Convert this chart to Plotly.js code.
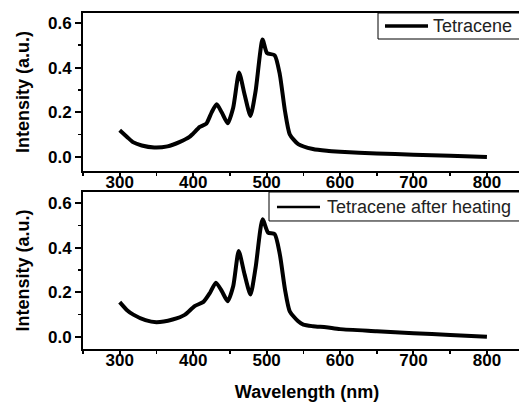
<!DOCTYPE html>
<html>
<head>
<meta charset="utf-8">
<script src="https://cdn.plot.ly/plotly-3.0.1.min.js"></script>
<style>
html,body{margin:0;padding:0;overflow:hidden;background:#fff;width:519px;height:406px;}
#chart{width:545px;height:406px;}
</style>
</head>
<body>
<div id="chart"></div>
<script>
// Tetracene (top panel)
const wlTop = [300, 310, 318, 330, 347, 365, 382, 395, 400, 409, 418, 425, 432, 439, 447, 454.5, 462.5, 470, 478, 485, 494.5, 500.5, 511, 518, 525, 531.5, 543, 563, 582, 600, 650, 700, 750, 800];
const intTop = [0.12, 0.09, 0.067, 0.052, 0.043, 0.048, 0.068, 0.09, 0.105, 0.135, 0.15, 0.199, 0.236, 0.199, 0.151, 0.221, 0.378, 0.28, 0.184, 0.295, 0.526, 0.465, 0.455, 0.369, 0.206, 0.102, 0.058, 0.036, 0.028, 0.024, 0.016, 0.011, 0.006, 0.0];
// Tetracene after heating (bottom panel)
const wlBot = [300, 310, 318.5, 335, 350, 372, 389, 402, 414, 423, 431, 439, 447, 454.5, 462, 470, 478, 485, 494.5, 502, 511, 518, 525, 531.5, 543, 550, 563, 581, 600, 650, 700, 750, 800];
const intBot = [0.156, 0.12, 0.10, 0.075, 0.066, 0.078, 0.10, 0.138, 0.157, 0.198, 0.243, 0.205, 0.16, 0.227, 0.385, 0.28, 0.19, 0.31, 0.527, 0.467, 0.46, 0.37, 0.213, 0.115, 0.07, 0.055, 0.048, 0.043, 0.035, 0.026, 0.017, 0.009, 0.001];
const nameTop = 'Tetracene';
const nameBot = 'Tetracene after heating';
const xTitle = 'Wavelength (nm)';
const yTitle = 'Intensity (a.u.)';

const FAM = 'Liberation Sans, Arial, sans-serif';
function tickFont() { return {family: FAM, size: 17, color: '#000', weight: 'bold'}; }

function xAx(anchor, showTitle) {
  const a = {
    anchor: anchor, domain: [0, 1], range: [250, 860], dtick: 100, tick0: 0,
    showgrid: false, zeroline: false, showline: true, mirror: true,
    linecolor: '#000', linewidth: 2, ticks: 'outside', ticklen: 5, tickwidth: 2, tickcolor: '#000',
    tickfont: tickFont(), ticklabelstandoff: -10,
    minor: {dtick: 50, tick0: 0, ticks: 'outside', ticklen: 3, tickwidth: 1.5, tickcolor: '#000', showgrid: false}
  };
  if (showTitle) a.title = {text: xTitle, font: {family: FAM, size: 18, color: '#000', weight: 'bold'}, standoff: 16};
  return a;
}
function yAx(anchor, domain, range) {
  return {
    anchor: anchor, domain: domain, range: range, dtick: 0.2, tick0: 0, tickformat: '.1f',
    showgrid: false, zeroline: false, showline: true, mirror: true,
    linecolor: '#000', linewidth: 2, ticks: 'outside', ticklen: 6, tickwidth: 2, tickcolor: '#000',
    tickfont: tickFont(), ticklabelstandoff: 0,
    minor: {dtick: 0.1, tick0: 0, ticks: 'outside', ticklen: 3, tickwidth: 1.5, tickcolor: '#000', showgrid: false},
    title: {text: yTitle, font: {family: FAM, size: 18, color: '#000', weight: 'bold'}, standoff: 14}
  };
}

const traces = [
  {x: wlTop, y: intTop, xaxis: 'x', yaxis: 'y', type: 'scatter', mode: 'lines', name: nameTop,
   line: {color: '#000', width: 4, shape: 'spline', smoothing: 0.6}, showlegend: false},
  {x: wlBot, y: intBot, xaxis: 'x2', yaxis: 'y2', type: 'scatter', mode: 'lines', name: nameBot,
   line: {color: '#000', width: 4, shape: 'spline', smoothing: 0.6}, showlegend: false}
];

// legend boxes (layout decoration, paper coordinates)
const legFont = {family: FAM, size: 18, color: '#222'};
const shapes = [
  {type: 'rect', xref: 'paper', yref: 'paper', x0: 0.6585, x1: 1.1, y0: 0.9226, y1: 1,
   line: {color: '#000', width: 1}, fillcolor: '#fff', layer: 'above'},
  {type: 'line', xref: 'paper', yref: 'paper', x0: 0.6741, x1: 0.7701, y0: 0.9613, y1: 0.9613,
   line: {color: '#000', width: 3.5}, layer: 'above'},
  {type: 'rect', xref: 'paper', yref: 'paper', x0: 0.4152, x1: 1.1, y0: 0.381, y1: 0.4673,
   line: {color: '#000', width: 1}, fillcolor: '#fff', layer: 'above'},
  {type: 'line', xref: 'paper', yref: 'paper', x0: 0.4330, x1: 0.5290, y0: 0.4226, y1: 0.4226,
   line: {color: '#000', width: 2.5}, layer: 'above'}
];
const annotations = [
  {xref: 'paper', yref: 'paper', x: 0.7768, y: 0.9613, xanchor: 'left', yanchor: 'middle',
   text: nameTop, showarrow: false, font: legFont},
  {xref: 'paper', yref: 'paper', x: 0.5402, y: 0.4226, xanchor: 'left', yanchor: 'middle',
   text: nameBot, showarrow: false, font: legFont}
];

const layout = {
  width: 545, height: 406,
  margin: {l: 83, r: 14, t: 13, b: 57},
  paper_bgcolor: '#fff', plot_bgcolor: '#fff',
  showlegend: false,
  xaxis: xAx('y', false),
  yaxis: yAx('x', [0.5298, 1], [-0.062, 0.644]),
  xaxis2: xAx('y2', true),
  yaxis2: yAx('x2', [0, 0.4673], [-0.054, 0.649]),
  shapes: shapes,
  annotations: annotations
};

Plotly.newPlot('chart', traces, layout, {staticPlot: true, displayModeBar: false});
</script>
</body>
</html>
